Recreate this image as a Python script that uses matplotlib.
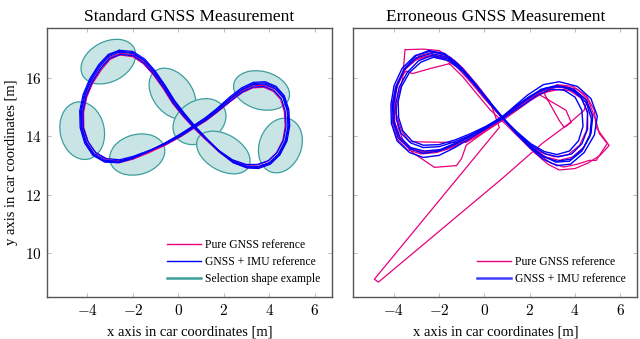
import numpy as np
import matplotlib
matplotlib.use("Agg")
import matplotlib.pyplot as plt
from matplotlib.patches import Ellipse
from matplotlib.transforms import Affine2D
from matplotlib.ticker import FuncFormatter

# ---- data (car coordinates, metres) ----
titles = ["Standard GNSS Measurement", "Erroneous GNSS Measurement"]
x_label = "x axis in car coordinates [m]"
y_label = "y axis in car coordinates [m]"
x_ticks = [-4, -2, 0, 2, 4, 6]
y_ticks = [10, 12, 14, 16]

# left panel: selection ellipses (centre x, centre y, major, minor in x-units, screen angle deg)
sel_cx = [-3.08, -4.23, -1.81, -0.26, 0.93, 1.98, 3.66, 4.49]
sel_cy = [16.57, 14.20, 13.38, 15.47, 14.51, 13.45, 15.58, 13.69]
sel_major = [2.56, 2.56, 2.47, 2.51, 2.47, 2.56, 2.51, 2.47]
sel_minor = [1.76, 1.94, 1.76, 1.72, 1.85, 1.59, 1.67, 1.85]
sel_angle = [28, 102, 15, -52, 30, -30, -15, 70]

# left panel: pure GNSS reference laps
std_gnss = [
    [(-2.55,16.86),(-1.98,16.8),(-1.5,16.55),(-1.06,16.16),(-0.62,15.67),(-0.22,15.17),(0.23,14.73),(0.7,14.33),
     (1.2,13.92),(1.8,13.46),(2.42,13.1),(3.02,12.93),(3.5,12.92),(4.0,13.06),(4.42,13.38),(4.74,13.86),(4.86,14.38),
     (4.82,14.9),(4.62,15.33),(4.27,15.62),(3.8,15.76),(3.3,15.74),(2.8,15.57),(2.3,15.27),(1.7,14.87),(1.2,14.58),
     (0.7,14.33),(0.1,14.02),(-0.6,13.7),(-1.3,13.44),(-2.0,13.22),(-2.6,13.1),(-3.2,13.13),(-3.7,13.36),(-4.04,13.78),
     (-4.22,14.3),(-4.22,14.85),(-4.08,15.38),(-3.8,15.88),(-3.4,16.36),(-3.0,16.72),(-2.55,16.86)],
    [(-2.58,16.8),(-2.0,16.74),(-1.54,16.5),(-1.1,16.12),(-0.66,15.64),(-0.26,15.14),(0.2,14.7),(0.66,14.3),
     (1.16,13.92),(1.76,13.5),(2.36,13.18),(2.96,13.02),(3.46,13.02),(3.94,13.15),(4.32,13.44),(4.6,13.88),(4.7,14.36),
     (4.66,14.86),(4.5,15.27),(4.18,15.55),(3.76,15.69),(3.28,15.67),(2.8,15.5),(2.32,15.22),(1.72,14.84),(1.22,14.54),
     (0.72,14.3),(0.12,14.0),(-0.58,13.7),(-1.28,13.48),(-1.98,13.28),(-2.58,13.16),(-3.14,13.2),(-3.62,13.42),
     (-3.96,13.8),(-4.16,14.3),(-4.17,14.83),(-4.03,15.35),(-3.77,15.83),(-3.38,16.3),(-3.0,16.65),(-2.58,16.8)],
]

# left panel: GNSS + IMU reference laps
std_imu = [
    [(-2.6,16.9),(-2.0,16.85),(-1.5,16.6),(-1.05,16.2),(-0.6,15.7),(-0.2,15.2),(0.25,14.75),(0.7,14.35),(1.2,13.95),
     (1.8,13.5),(2.4,13.15),(3.0,12.98),(3.5,12.97),(4.0,13.1),(4.4,13.4),(4.7,13.85),(4.82,14.35),(4.78,14.9),
     (4.6,15.35),(4.25,15.65),(3.8,15.8),(3.3,15.78),(2.8,15.6),(2.3,15.3),(1.7,14.9),(1.2,14.6),(0.7,14.35),
     (0.1,14.05),(-0.6,13.75),(-1.3,13.5),(-2.0,13.28),(-2.6,13.15),(-3.2,13.18),(-3.7,13.4),(-4.05,13.8),
     (-4.25,14.3),(-4.27,14.85),(-4.12,15.4),(-3.85,15.9),(-3.45,16.4),(-3.05,16.75),(-2.6,16.9)],
    [(-2.6,16.96),(-2.0,16.92),(-1.48,16.66),(-1.02,16.25),(-0.57,15.74),(-0.17,15.24),(0.28,14.78),(0.72,14.37),
     (1.22,13.95),(1.82,13.47),(2.42,13.1),(3.02,12.92),(3.52,12.9),(4.05,13.05),(4.47,13.37),(4.78,13.84),
     (4.9,14.36),(4.86,14.93),(4.66,15.4),(4.3,15.72),(3.82,15.88),(3.3,15.86),(2.78,15.67),(2.27,15.36),
     (1.68,14.95),(1.18,14.64),(0.68,14.38),(0.08,14.08),(-0.62,13.76),(-1.32,13.48),(-2.02,13.24),(-2.62,13.1),
     (-3.24,13.12),(-3.76,13.35),(-4.12,13.77),(-4.32,14.3),(-4.34,14.87),(-4.19,15.44),(-3.91,15.96),
     (-3.5,16.47),(-3.08,16.82),(-2.6,16.96)],
    [(-2.55,16.82),(-1.98,16.77),(-1.52,16.52),(-1.08,16.14),(-0.63,15.65),(-0.23,15.15),(0.22,14.71),(0.68,14.32),
     (1.18,13.94),(1.78,13.52),(2.38,13.2),(2.98,13.04),(3.48,13.04),(3.96,13.17),(4.34,13.45),(4.63,13.88),
     (4.74,14.36),(4.7,14.88),(4.53,15.3),(4.2,15.58),(3.78,15.72),(3.3,15.7),(2.82,15.53),(2.33,15.24),
     (1.72,14.86),(1.22,14.56),(0.72,14.32),(0.12,14.02),(-0.58,13.73),(-1.28,13.52),(-1.98,13.32),(-2.58,13.2),
     (-3.16,13.24),(-3.64,13.45),(-3.98,13.83),(-4.18,14.3),(-4.2,14.84),(-4.06,15.37),(-3.8,15.85),
     (-3.41,16.34),(-3.02,16.68),(-2.55,16.82)],
    [(-2.62,16.93),(-2.02,16.88),(-1.5,16.62),(-1.04,16.22),(-0.6,15.72),(-0.2,15.22),(0.24,14.77),(0.7,14.36),
     (1.2,13.93),(1.8,13.48),(2.4,13.12),(3.0,12.95),(3.5,12.94),(4.02,13.08),(4.44,13.38),(4.74,13.85),
     (4.86,14.36),(4.82,14.92),(4.63,15.38),(4.28,15.69),(3.8,15.84),(3.3,15.82),(2.8,15.63),(2.3,15.33),
     (1.7,14.93),(1.2,14.62),(0.7,14.37),(0.1,14.07),(-0.6,13.77),(-1.3,13.5),(-2.0,13.26),(-2.6,13.12),
     (-3.22,13.15),(-3.73,13.37),(-4.08,13.79),(-4.28,14.3),(-4.3,14.86),(-4.15,15.42),(-3.88,15.93),
     (-3.48,16.44),(-3.06,16.79),(-2.62,16.93)],
]

# right panel: pure GNSS reference (erroneous), laps incl. jumps
err_gnss = [
    [(-2.3,16.8),(-1.6,16.7),(-1.0,16.3),(-0.4,15.75),(0.2,15.15),(0.85,14.58),(1.5,14.05),(2.1,13.62),(2.7,13.3),
     (3.3,13.18),(3.9,13.3),(4.4,13.65),(4.7,14.15),(4.75,14.75),(4.45,15.3),(3.9,15.62),(3.2,15.7),(2.5,15.55),
     (1.85,15.2),(1.3,14.9),(0.8,14.6),(0.1,14.25),(-0.6,13.92),(-1.3,13.68),(-2.0,13.5),(-2.7,13.45),(-3.3,13.6),
     (-3.75,13.95),(-3.95,14.5),(-3.98,15.1),(-3.85,15.7),(-3.5,16.3),(-2.95,16.68),(-2.3,16.8)],
    [(-2.0,16.95),(-1.3,16.6),(-0.7,16.1),(-0.1,15.5),(0.5,14.9),(1.1,14.4),(1.7,13.9),(2.3,13.45),(2.9,13.1),
     (3.5,12.95),(4.1,13.05),(4.63,13.18),(4.93,13.18),(5.42,13.76),(5.07,14.1),(4.9,14.6),(4.6,15.2),(4.0,15.55),
     (3.3,15.62),(2.6,15.5),(2.0,15.22),(1.4,14.88),(0.8,14.55),(0.0,14.15),(-0.8,13.7),(-1.0,13.25),(-1.23,13.0),
     (-2.2,12.94),(-3.17,13.45),(-3.55,13.8),(-3.8,14.3),(-3.9,14.9),(-3.75,15.5),(-3.6,15.99),(-3.5,16.98),
     (-2.7,17.0),(-2.0,16.95)],
    [(-1.54,16.5),(-0.95,16.05),(-0.35,15.48),(0.25,14.92),(0.9,14.45),(1.55,13.95),(2.2,13.45),(2.8,13.05),
     (3.3,12.85),(4.0,12.9),(4.6,13.1),(5.1,13.35),(5.5,13.69),(4.93,14.31),(4.85,14.9),(4.5,15.4),(3.9,15.72),
     (3.2,15.78),(2.64,15.47),(3.3,14.55),(3.52,14.31),(3.83,14.48),(3.6,14.9),(2.29,15.5),(1.7,15.15),(1.1,14.8),
     (0.6,14.5),(-0.1,14.1),(-0.8,13.8),(-1.8,13.8),(-3.3,13.82),(-3.65,14.2),(-3.9,14.8),(-3.95,15.4),(-3.8,15.9),
     (-3.45,16.25),(-3.17,16.16),(-2.4,16.33),(-1.54,16.5)],
    [(-2.2,16.9),(-1.5,16.72),(-0.95,16.35),(-0.35,15.8),(0.25,15.2),(0.66,14.31),(-4.85,9.1),(-4.67,9.0),
     (0.79,12.56),(2.55,13.76),(3.74,14.45),(4.4,14.9),(4.55,15.3),(4.1,15.62),(3.4,15.75),(2.7,15.62),(2.0,15.3),
     (1.4,14.95),(0.8,14.62),(0.1,14.28),(-0.6,13.98),(-1.3,13.72),(-2.0,13.52),(-2.7,13.48),(-3.3,13.62),
     (-3.78,14.0),(-4.0,14.55),(-4.0,15.15),(-3.85,15.75),(-3.45,16.38),(-2.85,16.78),(-2.2,16.9)],
    [(-2.5,16.75),(-1.8,16.68),(-1.2,16.38),(-0.6,15.86),(0.0,15.3),(0.7,14.7),(1.3,14.22),(1.9,13.78),(2.5,13.45),
     (3.1,13.3),(3.7,13.38),(4.2,13.7),(4.5,14.2),(4.55,14.8),(4.3,15.3),(3.75,15.58),(3.05,15.62),(2.4,15.45),
     (1.8,15.12),(1.2,14.82),(0.7,14.55),(0.0,14.2),(-0.7,13.88),(-1.4,13.62),(-2.1,13.45),(-2.8,13.4),(-3.4,13.55),
     (-3.85,13.92),(-4.05,14.45),(-4.08,15.05),(-3.92,15.68),(-3.58,16.25),(-3.05,16.62),(-2.5,16.75)],
]

# right panel: GNSS + IMU reference laps
err_imu = [
    [(-2.4,16.92),(-1.7,16.8),(-1.1,16.42),(-0.5,15.9),(0.1,15.32),(0.8,14.66),(1.4,14.12),(2.0,13.62),(2.6,13.22),
     (3.2,13.0),(3.8,13.05),(4.4,13.45),(4.85,14.05),(4.98,14.7),(4.7,15.3),(4.1,15.72),(3.3,15.88),(2.6,15.78),
     (1.9,15.42),(1.3,15.02),(0.8,14.68),(0.1,14.28),(-0.6,13.95),(-1.3,13.62),(-2.0,13.35),(-2.7,13.28),
     (-3.3,13.45),(-3.85,13.85),(-4.1,14.45),(-4.12,15.1),(-3.98,15.75),(-3.62,16.35),(-3.05,16.78),(-2.4,16.92)],
    [(-2.3,16.78),(-1.6,16.66),(-1.0,16.3),(-0.4,15.78),(0.2,15.2),(0.85,14.6),(1.45,14.15),(2.05,13.75),
     (2.65,13.48),(3.2,13.38),(3.75,13.5),(4.15,13.85),(4.35,14.35),(4.3,14.9),(4.0,15.35),(3.5,15.6),(2.9,15.62),
     (2.3,15.4),(1.75,15.1),(1.25,14.85),(0.75,14.58),(0.1,14.3),(-0.6,14.05),(-1.3,13.82),(-2.0,13.65),
     (-2.7,13.62),(-3.25,13.78),(-3.68,14.12),(-3.88,14.6),(-3.9,15.15),(-3.75,15.7),(-3.4,16.2),(-2.9,16.6),
     (-2.3,16.78)],
    [(-2.35,16.85),(-1.65,16.73),(-1.05,16.35),(-0.45,15.82),(0.15,15.25),(0.8,14.62),(1.4,14.1),(2.0,13.65),
     (2.6,13.3),(3.2,13.15),(3.8,13.22),(4.35,13.58),(4.7,14.1),(4.78,14.7),(4.5,15.25),(3.95,15.62),(3.2,15.75),
     (2.5,15.62),(1.85,15.28),(1.3,14.95),(0.8,14.66),(0.1,14.33),(-0.6,14.02),(-1.3,13.72),(-2.0,13.5),
     (-2.7,13.42),(-3.3,13.58),(-3.8,13.95),(-4.02,14.5),(-4.05,15.1),(-3.9,15.72),(-3.55,16.28),(-3.0,16.7),
     (-2.35,16.85)],
    [(-2.25,16.72),(-1.55,16.6),(-0.95,16.22),(-0.35,15.7),(0.25,15.12),(0.9,14.55),(1.5,14.08),(2.1,13.68),
     (2.7,13.4),(3.25,13.3),(3.85,13.4),(4.3,13.75),(4.55,14.25),(4.55,14.85),(4.25,15.35),(3.7,15.68),(3.0,15.72),
     (2.35,15.52),(1.75,15.2),(1.2,14.9),(0.75,14.62),(0.1,14.36),(-0.6,14.1),(-1.3,13.88),(-2.0,13.72),
     (-2.7,13.7),(-3.2,13.85),(-3.6,14.2),(-3.78,14.65),(-3.8,15.2),(-3.65,15.72),(-3.3,16.2),(-2.8,16.55),
     (-2.25,16.72)],
    [(-2.45,16.95),(-1.75,16.85),(-1.15,16.48),(-0.55,15.95),(0.05,15.36),(0.75,14.7),(1.35,14.18),(1.95,13.72),
     (2.55,13.35),(3.15,13.12),(3.75,13.15),(4.3,13.5),(4.65,14.0),(4.72,14.6),(4.5,15.15),(4.0,15.55),
     (3.35,15.72),(2.7,15.66),(2.0,15.38),(1.4,15.05),(0.85,14.72),(0.15,14.38),(-0.55,14.05),(-1.25,13.78),
     (-1.95,13.55),(-2.65,13.5),(-3.25,13.62),(-3.72,13.98),(-3.98,14.5),(-4.0,15.12),(-3.85,15.75),
     (-3.5,16.35),(-3.0,16.78),(-2.45,16.95)],
]

# ---- styling ----
plt.rcParams["font.family"] = "Liberation Serif"
plt.rcParams["mathtext.fontset"] = "cm"

pink = "#e6007e"
blue = "#0000ff"
teal_edge = "#3d9e9e"
teal_face = "#c9e4e4"
frame_col = "#555555"
tick_col = "#b0b0b0"

xlim = (-5.78, 6.75)
ylim = (8.49, 17.72)

fig = plt.figure(figsize=(6.4, 3.39), dpi=100)
ax1 = fig.add_axes([0.0734, 0.124, 0.445, 0.793])
ax2 = fig.add_axes([0.552, 0.124, 0.444, 0.793])

fmt = FuncFormatter(lambda v, p: "$%d$" % v)

def style_axes(ax, title, ylabels=True):
    ax.set_xlim(*xlim)
    ax.set_ylim(*ylim)
    ax.set_xticks(x_ticks)
    ax.set_yticks(y_ticks)
    ax.xaxis.set_major_formatter(fmt)
    ax.yaxis.set_major_formatter(fmt)
    ax.tick_params(direction="in", length=3, width=0.6, color=tick_col,
                   top=True, right=True, labelsize=11, pad=4)
    if not ylabels:
        ax.tick_params(labelleft=False)
    for s in ax.spines.values():
        s.set_color(frame_col)
        s.set_linewidth(1.0)
    ax.set_title(title, fontsize=12.5, pad=5)
    ax.set_xlabel(x_label, fontsize=10.5, labelpad=6)

def draw_laps(ax, laps, color, lw):
    for lap in laps:
        pts = np.array(lap)
        ax.plot(pts[:, 0], pts[:, 1], color=color, lw=lw, solid_joinstyle="round")

style_axes(ax1, titles[0])
ax1.set_ylabel(y_label, fontsize=10.5, labelpad=5)
style_axes(ax2, titles[1], ylabels=False)

# ellipses are given in screen-proportional units -> squash y back into data units
pos = ax1.get_position()
k = (pos.height * 3.39 / (ylim[1] - ylim[0])) / (pos.width * 6.4 / (xlim[1] - xlim[0]))
squash = Affine2D().scale(1, 1 / k) + ax1.transData
for cx, cy, a, b, ang in zip(sel_cx, sel_cy, sel_major, sel_minor, sel_angle):
    ax1.add_patch(Ellipse((cx, cy * k), a, b, angle=ang, transform=squash,
                          facecolor=teal_face, edgecolor=teal_edge, lw=0.9, zorder=1))

draw_laps(ax1, std_gnss, pink, 0.9)
draw_laps(ax1, std_imu, blue, 0.9)
draw_laps(ax2, err_gnss, pink, 0.9)
draw_laps(ax2, err_imu, blue, 1.0)

h1 = [plt.Line2D([], [], color=pink, lw=1.0),
      plt.Line2D([], [], color=blue, lw=1.0),
      plt.Line2D([], [], color=teal_edge, lw=1.8)]
ax1.legend(h1, ["Pure GNSS reference", "GNSS + IMU reference", "Selection shape example"],
           loc="lower right", frameon=False, fontsize=8.4, handlelength=2.9,
           handletextpad=0.35, labelspacing=0.45, borderaxespad=0.6)
h2 = [plt.Line2D([], [], color=pink, lw=1.0),
      plt.Line2D([], [], color="#4040ff", lw=1.8)]
ax2.legend(h2, ["Pure GNSS reference", "GNSS + IMU reference"],
           loc="lower right", frameon=False, fontsize=8.4, handlelength=2.9,
           handletextpad=0.35, labelspacing=0.45, borderaxespad=0.6)

fig.savefig("out.png", dpi=100)
